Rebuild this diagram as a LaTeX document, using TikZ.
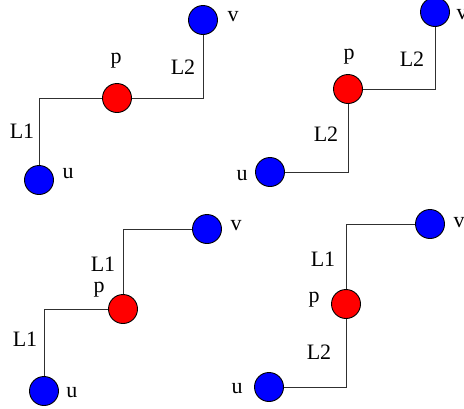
\documentclass[tikz,border=0pt]{standalone}
\usepackage{fontspec}
\setmainfont{Liberation Serif}
\usetikzlibrary{positioning}
\definecolor{dotb}{HTML}{0000FF}
\definecolor{dotr}{HTML}{FF0000}
\definecolor{wireg}{HTML}{303030}

\begin{document}
\begin{tikzpicture}[x=1pt,y=-1pt,font=\fontsize{22}{26}\selectfont,
    endpt/.style={circle,draw=black,fill=dotb,minimum size=29pt,inner sep=0pt,line width=0.9pt},
    midpt/.style={endpt,fill=dotr},
    link/.style={wireg,line width=1pt}]
    \useasboundingbox (0,0) rectangle (464,408);
    % top left
    \node[endpt] (u1) at (39,180) {};
    \node[midpt] (p1) at (117,98) {};
    \node[endpt] (v1) at (203,20) {};
    \draw[link] (u1) |- (p1);
    \draw[link] (p1) -| (v1);
    \node (tu1) at (68,174) {u};
    \node (tp1) at (116,61) {p};
    \node (tv1) at (233,17) {v};
    \node (la1) at (22,131) {L1};
    \node (lb1) at (183,67) {L2};
    % top right
    \node[endpt] (u2) at (270,172) {};
    \node[midpt] (p2) at (348,89) {};
    \node[endpt] (v2) at (435,12) {};
    \draw[link] (u2) -| (p2);
    \draw[link] (p2) -| (v2);
    \node (tu2) at (242,176) {u};
    \node (tp2) at (349,57) {p};
    \node (tv2) at (462,15) {v};
    \node (la2) at (326,134) {L2};
    \node (lb2) at (412,59) {L2};
    % bottom left
    \node[endpt] (u3) at (44,391) {};
    \node[midpt] (p3) at (123,309) {};
    \node[endpt] (v3) at (207,229) {};
    \draw[link] (u3) |- (p3);
    \draw[link] (p3) |- (v3);
    \node (tu3) at (72,393) {u};
    \node (tp3) at (99,290) {p};
    \node (tv3) at (236,226) {v};
    \node (la3) at (25,339) {L1};
    \node (lb3) at (103,264) {L1};
    % bottom right
    \node[endpt] (u4) at (269,387) {};
    \node[midpt] (p4) at (346,304) {};
    \node[endpt] (v4) at (430,224) {};
    \draw[link] (u4) -| (p4);
    \draw[link] (p4) |- (v4);
    \node (tu4) at (237,389) {u};
    \node (tp4) at (314,300) {p};
    \node (tv4) at (459,223) {v};
    \node (la4) at (319,352) {L2};
    \node (lb4) at (323,259) {L1};
\end{tikzpicture}
\end{document}
